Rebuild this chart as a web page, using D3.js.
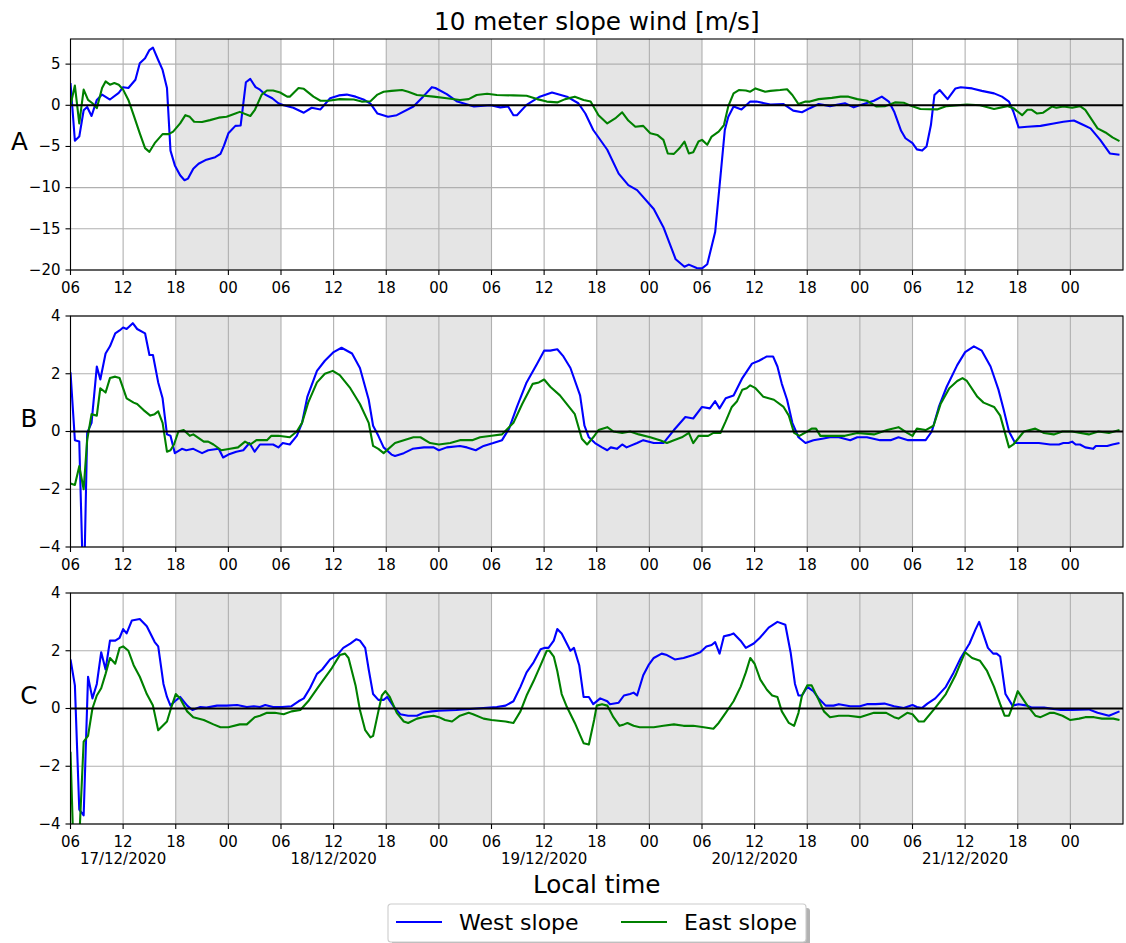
<!DOCTYPE html>
<html>
<head>
<meta charset="utf-8">
<script src="https://cdn.jsdelivr.net/npm/d3@7"></script>
<style>
body { margin: 0; background: #fff; }
svg { display: block; font-family: "DejaVu Sans", sans-serif; }
</style>
</head>
<body>
<div id="chart"></div>
<script>
// slope wind series: [hours after 06:00 17/12/2020, m/s]
var westA = [[0,2.7],[0.5,-4.3],[1,-3.8],[1.5,-0.6],[1.9,-0.2],[2.4,-1.3],[3,0.65],[3.6,1.3],[4.5,0.7],[5.5,1.5],[6,2.2],[6.6,2.1],[7.4,3.1],[7.9,5.1],[8.5,5.7],[9,6.7],[9.4,7.0],[10,5.5],[10.5,4.3],[11,2.1],[11.4,-5.5],[11.9,-7.3],[12.5,-8.5],[13,-9.1],[13.4,-8.9],[14,-7.7],[14.6,-7.1],[15.5,-6.6],[16.5,-6.3],[17.1,-5.9],[17.5,-4.9],[18,-3.4],[18.8,-2.5],[19.4,-2.45],[20,2.8],[20.5,3.2],[21.1,2.2],[21.6,1.9],[22.2,1.3],[23,0.85],[23.7,0.25],[24.3,0],[25.4,-0.3],[26.6,-0.9],[27.5,-0.3],[28.5,-0.5],[29.6,0.85],[30.6,1.2],[31.5,1.3],[32.5,1.05],[33.4,0.7],[34.2,0.2],[35,-1.0],[36.2,-1.4],[37.2,-1.2],[39.1,-0.15],[40.2,1.05],[41.2,2.2],[41.6,2.1],[42.9,1.35],[44.1,0.45],[46,-0.15],[47.9,0],[49,-0.25],[49.9,-0.15],[50.5,-1.2],[50.9,-1.2],[52,0.05],[53.5,1.05],[54.9,1.55],[56.6,1.05],[57.9,0.25],[58.7,-1.0],[59.6,-3.0],[61.2,-5.4],[62.5,-8.3],[63.6,-9.7],[64.6,-10.3],[66.5,-12.6],[67.6,-14.8],[69,-18.7],[70,-19.6],[70.5,-19.35],[71.4,-19.75],[72,-19.8],[72.6,-19.3],[73.5,-15.4],[74.1,-8.7],[74.6,-3.0],[75,-1.4],[75.6,-0.15],[76.5,-0.5],[77.5,0.45],[78.2,0.45],[79.8,0.1],[81.3,0.15],[82.4,-0.65],[83.4,-0.85],[84.3,-0.35],[85.3,0.15],[86.6,-0.1],[88.3,0.25],[89.3,-0.25],[90.1,0.05],[91.6,0.55],[92.5,1.05],[93.3,0.45],[93.9,-0.75],[94.7,-3.1],[95.2,-4.0],[96,-4.6],[96.5,-5.35],[97.1,-5.5],[97.6,-5.0],[98.1,-2.4],[98.5,1.25],[99.1,1.85],[100,0.75],[100.9,2.05],[101.5,2.2],[102.8,2.05],[103.9,1.75],[105.3,1.45],[106.2,1.05],[107,0.45],[107.5,-0.75],[108.1,-2.7],[109.1,-2.6],[110.6,-2.5],[112.1,-2.2],[113.2,-2.0],[114.4,-1.85],[115.5,-2.4],[116.3,-2.8],[117.4,-4.2],[118.5,-5.85],[119.6,-6.0]];

var eastA = [[0,0],[0.5,2.4],[1,-2.2],[1.5,1.9],[2,0.65],[2.5,0.25],[3,-0.35],[3.6,2.1],[4,2.9],[4.5,2.5],[5,2.7],[5.5,2.5],[6,1.9],[6.6,0.65],[7.2,-1.2],[7.9,-3.4],[8.5,-5.2],[9,-5.65],[9.6,-4.6],[10.5,-3.5],[11.2,-3.5],[11.7,-3.2],[12.5,-2.2],[13.1,-1.2],[13.6,-1.4],[14.1,-2.0],[15,-2.03],[15.9,-1.8],[16.9,-1.5],[17.8,-1.4],[18.8,-1.0],[19.3,-0.8],[20.5,-1.3],[21,-0.6],[21.8,1.3],[22.4,1.8],[23.1,1.8],[23.9,1.55],[24.7,1.05],[25,1.05],[26,2.1],[26.6,2.0],[27.7,1.05],[28.5,0.55],[29.4,0.55],[30.7,0.75],[32.3,0.7],[33.2,0.45],[34.2,0.5],[35,1.3],[35.7,1.65],[36.6,1.75],[37.8,1.85],[38.5,1.65],[39.5,1.25],[41.4,1.05],[42.9,0.85],[44.4,0.65],[45.4,0.75],[46.3,1.25],[47.5,1.4],[48.6,1.25],[50.5,1.2],[52,1.15],[53.2,0.75],[54.3,0.45],[55.5,0.35],[56.4,0.75],[57.5,1.05],[58.5,0.65],[59.3,0.45],[60.2,-1.2],[61.2,-2.2],[62.1,-1.6],[62.9,-0.85],[63.6,-1.85],[64.4,-2.6],[65.3,-2.5],[66.1,-3.4],[66.9,-3.6],[67.6,-4.2],[68.1,-5.85],[68.8,-5.9],[69.4,-5.25],[70,-4.4],[70.5,-5.85],[71,-5.7],[71.6,-4.4],[72,-4.2],[72.6,-4.8],[73.1,-3.8],[73.9,-3.2],[74.5,-2.4],[75,-0.1],[75.6,1.45],[76.2,1.85],[77,1.8],[77.5,1.65],[78.1,2.05],[79.2,1.65],[79.8,1.75],[80.9,1.85],[81.7,1.95],[82.3,1.25],[83,0.15],[83.8,0.45],[84.3,0.45],[85.3,0.75],[86.8,0.9],[87.8,1.05],[88.7,1.05],[89.7,0.75],[90.8,0.55],[91.9,-0.15],[92.9,-0.1],[94,0.35],[95,0.3],[95.9,-0.1],[96.9,-0.45],[98.8,-0.5],[99.9,-0.1],[102.2,0.1],[103.7,0],[105.3,-0.45],[106.8,-0.1],[107.5,-0.35],[108.5,-1.2],[109.1,-0.55],[109.6,-0.55],[110.2,-1.0],[110.9,-0.9],[111.9,-0.15],[112.4,-0.3],[113.2,-0.15],[114.2,-0.3],[115.1,-0.1],[115.7,-0.55],[117.1,-2.8],[118,-3.3],[118.8,-3.9],[119.6,-4.35]];

var westB = [[0,2.05],[0.5,-0.3],[1,-0.35],[1.5,-6],[1.9,-0.05],[2.4,0.3],[3,2.25],[3.4,1.8],[4,2.7],[4.5,2.95],[5.1,3.4],[5.6,3.5],[6,3.6],[6.4,3.55],[7.1,3.75],[7.6,3.55],[8.5,3.4],[9,2.65],[9.4,2.65],[10,1.7],[10.5,1.15],[11,-0.1],[11.4,-0.15],[11.9,-0.75],[12.7,-0.6],[13.2,-0.65],[14,-0.6],[15,-0.75],[15.7,-0.65],[16.9,-0.6],[17.4,-0.9],[18,-0.8],[18.9,-0.7],[19.7,-0.65],[20.4,-0.4],[21,-0.7],[21.6,-0.45],[22.4,-0.45],[23.1,-0.45],[23.7,-0.55],[24.2,-0.4],[25,-0.45],[25.8,-0.15],[26.4,0.3],[27,1.2],[28.1,2.1],[29,2.45],[30,2.75],[30.9,2.9],[32.1,2.7],[33,2.2],[34,1.1],[34.5,0.2],[35.1,-0.15],[35.7,-0.55],[36.6,-0.8],[37,-0.85],[38,-0.75],[39,-0.6],[40.3,-0.55],[41.4,-0.55],[42,-0.65],[42.9,-0.55],[44.4,-0.5],[45.2,-0.55],[46.2,-0.65],[47.1,-0.5],[48.2,-0.4],[49.2,-0.3],[50,0.1],[50.9,0.85],[52,1.7],[53.2,2.35],[54,2.8],[54.7,2.8],[55.5,2.85],[56.2,2.6],[57,2.2],[58.1,1.25],[58.6,0.2],[59.1,-0.2],[59.8,-0.4],[60.6,-0.55],[61.2,-0.65],[61.6,-0.55],[62.3,-0.6],[62.9,-0.45],[63.4,-0.55],[64.6,-0.4],[65.3,-0.3],[66.5,-0.4],[67.6,-0.4],[68.8,0.05],[70.1,0.5],[71,0.45],[72,0.85],[72.9,0.8],[73.5,1.05],[74,0.8],[74.7,1.15],[75.6,1.25],[76.6,1.85],[77.7,2.35],[78.5,2.45],[79.4,2.6],[80.1,2.6],[80.6,2.25],[81.1,1.65],[81.7,1.1],[82.3,0.3],[83,-0.2],[83.8,-0.4],[84.7,-0.3],[85.7,-0.25],[86.6,-0.2],[87.6,-0.2],[88.9,-0.3],[89.7,-0.2],[90.8,-0.2],[92.3,-0.3],[93.5,-0.3],[94.4,-0.2],[95.5,-0.3],[96.7,-0.3],[97.5,-0.3],[98.2,0],[99,0.85],[99.9,1.55],[101.1,2.3],[102,2.75],[103,2.95],[103.9,2.8],[104.9,2.25],[105.8,1.45],[106.4,0.75],[107,0],[107.7,-0.4],[109.1,-0.4],[110.4,-0.4],[111.7,-0.45],[112.7,-0.45],[113.2,-0.4],[113.8,-0.4],[114.2,-0.35],[114.6,-0.45],[115.1,-0.45],[115.7,-0.55],[116.6,-0.6],[116.9,-0.5],[117.6,-0.5],[118.2,-0.5],[118.8,-0.45],[119.6,-0.4]];

var eastB = [[0,-1.8],[0.5,-1.85],[1,-1.2],[1.5,-2.0],[1.9,-0.3],[2.4,0.6],[3,0.55],[3.4,1.5],[4,1.35],[4.5,1.85],[5.1,1.9],[5.6,1.85],[6.4,1.15],[7.2,1.0],[7.6,0.95],[8.3,0.75],[9.1,0.55],[9.6,0.6],[10,0.7],[10.5,0.3],[11,-0.7],[11.4,-0.65],[11.8,-0.45],[12.3,0],[12.9,0.05],[13.6,-0.15],[14,-0.1],[15.2,-0.35],[15.7,-0.35],[16.3,-0.45],[17.2,-0.65],[18.2,-0.6],[19.1,-0.55],[19.9,-0.35],[20.5,-0.45],[21.2,-0.3],[22.4,-0.3],[22.9,-0.15],[23.7,-0.15],[25,-0.2],[25.8,0],[26.4,0.3],[27.1,1.0],[28.1,1.7],[29,2.0],[29.9,2.1],[30.7,1.95],[31.9,1.5],[33,0.95],[34,0.3],[34.5,-0.5],[35.1,-0.6],[35.7,-0.75],[37,-0.4],[38,-0.3],[39.1,-0.2],[39.9,-0.2],[41,-0.4],[42,-0.45],[43.3,-0.4],[44.4,-0.3],[45.8,-0.3],[46.7,-0.2],[48,-0.15],[49.2,-0.1],[50.5,0.3],[51.5,0.95],[52.7,1.65],[53.4,1.7],[54,1.8],[54.7,1.55],[55.8,1.25],[57.5,0.6],[58.3,-0.25],[58.9,-0.45],[59.6,-0.2],[60.2,0.05],[61.2,0.15],[61.9,0],[62.9,-0.05],[63.8,0],[64.8,-0.1],[66.1,-0.2],[67.2,-0.3],[68,-0.4],[68.8,-0.3],[69.7,-0.2],[70.5,-0.05],[71,-0.4],[71.6,-0.15],[72.7,-0.15],[73.3,-0.05],[74.1,-0.05],[74.7,0.35],[75.4,0.85],[76,1.05],[76.6,1.45],[77.1,1.5],[77.5,1.6],[78.1,1.5],[79,1.2],[80.2,1.1],[81.3,0.85],[81.9,0.55],[82.5,-0.05],[83.1,-0.15],[84,0],[84.5,0.1],[85,0.1],[85.5,-0.15],[87,-0.15],[88.3,-0.15],[89.7,-0.05],[91.6,-0.1],[93.1,0.05],[94.4,0.15],[95.4,-0.05],[96,-0.15],[96.5,0.1],[97.5,0.05],[98.4,0.2],[99.2,0.95],[100.2,1.5],[101.1,1.75],[101.7,1.85],[102.2,1.75],[103.4,1.2],[104.1,1.0],[105.3,0.85],[106,0.55],[107,-0.55],[107.5,-0.45],[108.7,0],[110,0.1],[111,-0.05],[112.1,-0.1],[113.1,0],[114.2,0],[116.1,-0.1],[117.2,0],[118.4,-0.05],[119.6,0.05]];

var westC = [[0,1.7],[0.5,0.8],[1,-3.5],[1.5,-3.7],[2,1.1],[2.5,0.35],[3,0.85],[3.5,1.95],[4,1.35],[4.5,2.35],[5.1,2.35],[5.6,2.45],[6,2.75],[6.4,2.6],[7,3.05],[7.9,3.1],[8.7,2.85],[9.6,2.3],[10,2.15],[10.6,0.85],[11,0.4],[11.4,0.1],[11.9,0.25],[12.5,0.4],[13.3,0.1],[13.9,-0.05],[14.8,0.05],[15.5,0.03],[16.7,0.1],[17.8,0.1],[19,0.12],[20.1,0.05],[20.9,0.08],[21.6,0.05],[22.2,0.12],[23.1,0.05],[24.1,0.05],[25.2,0.08],[26,0.25],[26.6,0.35],[27.3,0.7],[28.1,1.2],[28.7,1.35],[29.6,1.7],[30.4,1.85],[31.1,2.1],[31.9,2.25],[32.6,2.4],[33,2.35],[33.6,2.1],[34,1.35],[34.5,0.5],[35.1,0.3],[35.7,0.3],[36.1,0.4],[36.9,0.05],[37.6,-0.2],[38.5,-0.25],[39.5,-0.25],[40.2,-0.15],[41.2,-0.1],[42,-0.08],[44,-0.05],[46.3,0],[48.6,0.05],[49.6,0.1],[50.5,0.25],[51.3,0.75],[52,1.25],[52.8,1.6],[53.6,2.05],[54.1,2.1],[54.5,2.1],[55.1,2.35],[55.5,2.75],[56,2.6],[57,2.0],[57.4,2.1],[58,1.5],[58.5,0.4],[59.1,0.4],[59.6,0.15],[60.4,0.35],[61.2,0.25],[61.5,0.15],[62.5,0.2],[63.1,0.45],[63.8,0.5],[64.2,0.55],[64.6,0.45],[65.3,1.15],[65.9,1.5],[66.5,1.75],[67.4,1.9],[68,1.85],[68.9,1.7],[69.9,1.75],[71,1.85],[71.8,1.95],[72.5,2.15],[73.1,2.2],[73.5,2.3],[74,1.9],[74.5,2.5],[75.2,2.55],[75.6,2.6],[76.4,2.35],[77,2.1],[77.9,2.25],[78.6,2.45],[79.6,2.8],[80.6,3.0],[81.5,2.9],[82.1,1.95],[82.6,0.85],[83,0.45],[83.4,0.45],[84,0.75],[84.7,0.6],[85.3,0.35],[86.1,0.1],[87,0.1],[87.6,0.15],[88.9,0.08],[90,0.08],[90.8,0.15],[91.8,0.15],[92.8,0.17],[93.9,0.08],[95,0.02],[96,0.12],[96.5,0.05],[97.1,0.02],[97.7,0.17],[98.6,0.35],[99.8,0.75],[100.7,1.25],[101.5,1.75],[102,2.0],[102.5,2.25],[103.2,2.75],[103.6,3.0],[104.1,2.55],[104.6,2.1],[105.2,1.9],[105.6,1.9],[106,1.8],[106.6,0.5],[107.4,0.1],[108.1,0.15],[109.1,0.1],[109.6,0.03],[111,0.03],[112.9,-0.05],[114.2,-0.05],[116.1,-0.03],[117.1,-0.15],[118.4,-0.25],[119.6,-0.1]];

var eastC = [[0,-1.5],[0.5,-6.5],[1,-4.5],[1.5,-1.15],[2,-0.95],[2.5,0],[3,0.45],[3.5,0.7],[4,1.2],[4.5,1.75],[5.1,1.55],[5.6,2.1],[6,2.15],[6.6,2.0],[7.2,1.5],[7.9,1.1],[8.7,0.5],[9.4,0.1],[10,-0.75],[11,-0.45],[11.5,0.05],[12,0.5],[12.5,0.35],[13.3,-0.1],[14,-0.3],[15.2,-0.4],[16.3,-0.55],[17.1,-0.65],[18,-0.65],[19.3,-0.55],[20.1,-0.55],[21,-0.3],[21.6,-0.25],[22.4,-0.15],[23.3,-0.15],[24.3,-0.2],[25.2,-0.1],[26.2,-0.05],[27.1,0.25],[28.5,0.85],[29.8,1.4],[30.7,1.85],[31.3,1.9],[31.7,1.75],[32.5,0.8],[33,-0.05],[33.6,-0.75],[34.2,-1.0],[34.5,-0.95],[35.1,-0.1],[35.5,0.45],[35.9,0.6],[36.4,0.4],[37.2,-0.15],[38,-0.45],[38.5,-0.5],[39.5,-0.35],[40.2,-0.3],[41.4,-0.25],[42,-0.3],[42.7,-0.4],[43.5,-0.45],[44.4,-0.25],[45.4,-0.15],[45.9,-0.2],[47.1,-0.35],[48,-0.4],[49.6,-0.45],[50.5,-0.5],[51.3,-0.1],[52,0.45],[52.8,0.95],[53.6,1.5],[54.3,2.0],[54.6,2.0],[55.1,1.8],[55.5,1.3],[56,0.5],[56.6,0.05],[57.5,-0.5],[58,-0.85],[58.5,-1.2],[59.1,-1.25],[59.7,-0.4],[60,0.1],[60.6,0.15],[61.2,0.1],[61.9,-0.3],[62.6,-0.6],[63.1,-0.55],[63.5,-0.5],[64.2,-0.6],[64.9,-0.65],[66.5,-0.65],[67.6,-0.6],[68.8,-0.55],[69.9,-0.6],[71,-0.6],[72.2,-0.65],[73.3,-0.7],[73.9,-0.5],[74.7,-0.15],[75.6,0.25],[76.4,0.75],[77,1.25],[77.5,1.75],[78,1.55],[78.65,1.0],[79.4,0.65],[80,0.45],[80.6,0.4],[81.1,-0.1],[81.9,-0.5],[82.5,-0.6],[83,-0.15],[83.4,0.45],[84,0.8],[84.5,0.8],[85.3,0.3],[85.9,-0.1],[86.6,-0.3],[87.6,-0.25],[88.7,-0.25],[90,-0.3],[91.6,-0.15],[93,-0.15],[93.9,-0.3],[94.4,-0.35],[95.4,-0.15],[96,-0.2],[96.7,-0.45],[97.3,-0.45],[98.4,-0.05],[99.8,0.5],[100.9,1.15],[102,1.95],[102.8,1.75],[103.7,1.65],[104.5,1.3],[105.3,0.75],[106,0.15],[106.5,-0.25],[107,-0.25],[107.5,0.15],[108,0.6],[109.1,0.1],[110,-0.25],[110.6,-0.3],[111.7,-0.15],[112.1,-0.15],[113.1,-0.25],[114,-0.4],[115,-0.35],[115.7,-0.3],[116.7,-0.3],[117.6,-0.35],[118.9,-0.35],[119.6,-0.4]];

// nights shaded from 18:00 to 06:00 (hours after start)
var nights = [[12, 24], [36, 48], [60, 72], [84, 96], [108, 120]];

var labels = ["A", "B", "C"];
var yTicksA = [-20, -15, -10, -5, 0, 5];
var yTicksBC = [-4, -2, 0, 2, 4];
var seriesNames = ["West slope", "East slope"];
var colors = ["#0000ff", "#008000"];

var width = 1126, height = 943;
var left = 70.5, plotW = 1052.5, plotH = 231;
var tops = [39, 316, 593];

var start = new Date(2020, 11, 17, 6);
function toDate(h) { return new Date(start.getTime() + h * 3600e3); }

var x = d3.scaleTime().domain([start, toDate(120)]).range([0, plotW]);
var xTicks = d3.timeHour.range(start, toDate(120), 6);

var panels = [
    {label: labels[0], west: westA, east: eastA, domain: [-20, 8.05], ticks: yTicksA},
    {label: labels[1], west: westB, east: eastB, domain: [-4, 4], ticks: yTicksBC},
    {label: labels[2], west: westC, east: eastC, domain: [-4, 4], ticks: yTicksBC}
];

var svg = d3.select("#chart").append("svg")
    .attr("width", width)
    .attr("height", height);

svg.append("text")
    .attr("x", left + plotW / 2)
    .attr("y", 30)
    .attr("text-anchor", "middle")
    .style("font-size", "24.7px")
    .text("10 meter slope wind [m/s]");

panels.forEach(function(p, i) {
    var y = d3.scaleLinear().domain(p.domain).range([plotH, 0]);
    var g = svg.append("g").attr("transform", "translate(" + left + "," + tops[i] + ")");

    g.append("clipPath").attr("id", "clip" + i)
        .append("rect").attr("width", plotW).attr("height", plotH);

    g.selectAll(".night").data(nights).enter().append("rect")
        .attr("x", function(d) { return x(toDate(d[0])); })
        .attr("width", function(d) { return x(toDate(d[1])) - x(toDate(d[0])); })
        .attr("y", 0)
        .attr("height", plotH)
        .attr("fill", "#e5e5e5");

    // grid
    g.selectAll(".vgrid").data(xTicks).enter().append("line")
        .attr("x1", function(d) { return x(d); })
        .attr("x2", function(d) { return x(d); })
        .attr("y1", 0).attr("y2", plotH)
        .attr("stroke", "#b0b0b0").attr("stroke-width", 1.1);
    g.selectAll(".hgrid").data(p.ticks).enter().append("line")
        .attr("x1", 0).attr("x2", plotW)
        .attr("y1", function(d) { return y(d); })
        .attr("y2", function(d) { return y(d); })
        .attr("stroke", "#b0b0b0").attr("stroke-width", 1.1);

    var line = d3.line()
        .x(function(d) { return x(toDate(d[0])); })
        .y(function(d) { return y(d[1]); });

    var plot = g.append("g").attr("clip-path", "url(#clip" + i + ")");
    [p.west, p.east].forEach(function(s, k) {
        plot.append("path")
            .datum(s)
            .attr("d", line)
            .attr("fill", "none")
            .attr("stroke", colors[k])
            .attr("stroke-width", 2.1)
            .attr("stroke-linejoin", "round");
    });

    g.append("line")
        .attr("x1", 0).attr("x2", plotW)
        .attr("y1", y(0)).attr("y2", y(0))
        .attr("stroke", "#000").attr("stroke-width", 2.1);

    g.append("rect")
        .attr("width", plotW).attr("height", plotH)
        .attr("fill", "none").attr("stroke", "#000").attr("stroke-width", 1.1);

    var xAxis = g.append("g")
        .attr("transform", "translate(0," + plotH + ")")
        .call(d3.axisBottom(x).tickValues(xTicks).tickFormat(d3.timeFormat("%H"))
            .tickSize(5).tickPadding(7).offset(0));
    var yAxis = g.append("g")
        .call(d3.axisLeft(y).tickValues(p.ticks).tickFormat(d3.format("d"))
            .tickSize(5).tickPadding(5).offset(0));

    [xAxis, yAxis].forEach(function(a) {
        a.select(".domain").remove();
        a.selectAll(".tick line").attr("stroke", "#000").attr("stroke-width", 1.1);
        a.selectAll(".tick text").attr("fill", "#000").style("font-size", "15px")
            .style("font-family", "DejaVu Sans, sans-serif");
    });

    if (i === panels.length - 1) {
        xAxis.selectAll(".tick")
            .filter(function(d) { return d.getHours() === 12; })
            .append("text")
            .attr("fill", "#000")
            .attr("y", 12 + 17.5)
            .attr("dy", "0.71em")
            .style("font-size", "15px")
            .style("font-family", "DejaVu Sans, sans-serif")
            .text(d3.timeFormat("%d/%m/%Y"));
    }

    var bb = yAxis.node().getBBox();
    g.append("text")
        .attr("x", bb.x - 1)
        .attr("y", plotH / 2 - 4.5)
        .attr("text-anchor", "end")
        .style("font-size", "24.7px")
        .text(p.label);
});

svg.append("text")
    .attr("x", left + plotW / 2)
    .attr("y", 893)
    .attr("text-anchor", "middle")
    .style("font-size", "24.7px")
    .text("Local time");

// legend with drop shadow
var legend = svg.append("g").attr("transform", "translate(388,904)");
legend.append("rect")
    .attr("x", 4).attr("y", 4)
    .attr("width", 418).attr("height", 38).attr("rx", 3)
    .attr("fill", "#000").attr("opacity", 0.3);
legend.append("rect")
    .attr("width", 418).attr("height", 38).attr("rx", 3)
    .attr("fill", "#fff").attr("stroke", "#cccccc").attr("stroke-width", 1.1);

var items = legend.selectAll(".item").data(seriesNames).enter().append("g")
    .attr("transform", function(d, k) { return "translate(" + (8 + k * 225) + ",0)"; });
items.append("line")
    .attr("x1", 0).attr("x2", 46)
    .attr("y1", 18).attr("y2", 18)
    .attr("stroke", function(d, k) { return colors[k]; })
    .attr("stroke-width", 2.1);
items.append("text")
    .attr("x", 63)
    .attr("y", 26)
    .style("font-size", "22px")
    .text(function(d) { return d; });
</script>
</body>
</html>
